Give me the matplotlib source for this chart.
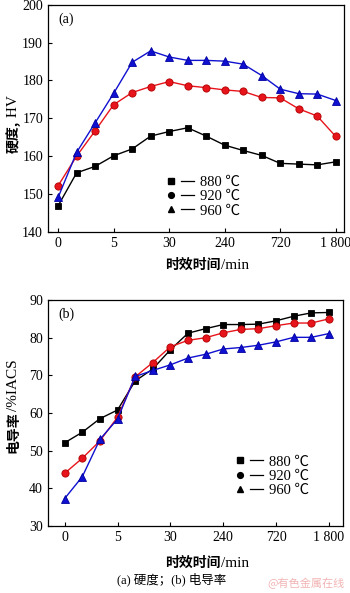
#!/usr/bin/env python3
import matplotlib
matplotlib.use("Agg")
import matplotlib.pyplot as plt
from matplotlib.lines import Line2D
from matplotlib.legend_handler import HandlerTuple

plt.rcParams["font.family"] = ["Liberation Serif", "Noto Sans CJK SC"]
plt.rcParams["font.size"] = 9

# aging time steps (min), only some get a tick label
STEPS = list(range(16))
TICK_POS = [0, 3, 6, 9, 12, 15]
TICK_LABELS = ["0", "5", "30", "240", "720", "1 800"]
TEMPS = ["880 ℃", "920 ℃", "960 ℃"]

# (a) hardness, HV
HV_880 = [146.9, 155.6, 157.3, 160.1, 161.9, 165.3, 166.5, 167.5,
          165.3, 162.9, 161.5, 160.2, 158.1, 157.9, 157.7, 158.5]
HV_920 = [152.2, 160.0, 166.7, 173.6, 176.8, 178.4, 179.7, 178.6,
          178.1, 177.5, 177.1, 175.5, 175.4, 172.5, 170.6, 165.2]
HV_960 = [149.1, 161.0, 168.8, 176.6, 184.8, 187.8, 186.2, 185.3,
          185.3, 185.1, 184.3, 181.3, 177.7, 176.5, 176.4, 174.7]

# (b) conductivity, %IACS
EC_880 = [52.1, 54.9, 58.5, 60.8, 68.5, 71.7, 76.8, 81.2,
          82.4, 83.5, 83.5, 83.6, 84.5, 85.7, 86.6, 86.7]
EC_920 = [44.0, 48.0, 52.6, 58.9, 69.6, 73.4, 77.6, 79.3,
          80.0, 81.3, 82.2, 82.4, 83.2, 83.9, 83.9, 85.0]
EC_960 = [37.3, 43.1, 53.0, 58.4, 69.7, 71.3, 72.8, 74.6,
          75.6, 77.0, 77.4, 78.0, 78.9, 80.1, 80.1, 81.1]

COLORS = ["#000000", "#e8141c", "#1010d0"]
EDGES = ["#000000", "#b00000", "#0000a0"]
MARKERS = ["s", "o", "^"]
MSIZE = [4.6, 5.2, 5.4]

CJK = {"family": ["Noto Sans CJK SC"], "fontweight": "bold", "fontsize": 10}
LAT = {"family": ["Liberation Serif"], "fontsize": 11}


def two_part_label(fig, x, y, cjk, latin, vertical=False):
    # bold CJK part followed by a plain serif part
    if vertical:
        t = fig.text(x, y, cjk, rotation=90, ha="center", va="bottom", **CJK)
        plt.annotate(latin, xy=(0.5, 1), xycoords=t, rotation=90,
                     ha="center", va="bottom", **LAT)
    else:
        t = fig.text(x, y, cjk, ha="left", va="center", **CJK)
        plt.annotate(latin, xy=(1, 0.5), xycoords=t, ha="left",
                     va="center", **LAT)


def draw(ax, series, ylim, yticks, tag, xlim, leg_anchor):
    for ys, c, e, m, ms in zip(series, COLORS, EDGES, MARKERS, MSIZE):
        ax.plot(STEPS, ys, color=c, marker=m, markersize=ms,
                markerfacecolor=c, markeredgecolor=e, markeredgewidth=0.6,
                linewidth=1.0)
    ax.set_xlim(*xlim)
    ax.set_ylim(*ylim)
    ax.set_yticks(yticks)
    ax.set_xticks(TICK_POS)
    ax.set_xticklabels(TICK_LABELS)
    ax.tick_params(direction="in", length=3, width=0.8, labelsize=10)
    for s in ax.spines.values():
        s.set_linewidth(0.9)
    ax.text(0.035, 0.965, tag, transform=ax.transAxes, ha="left", va="top",
            fontsize=10)

    handles = []
    for m, ms in zip(MARKERS, MSIZE):
        mk = Line2D([], [], marker=m, color="black", linestyle="none",
                    markersize=ms * 0.8)
        ln = Line2D([], [], color="black", linewidth=0.9)
        handles.append((mk, ln))
    ax.legend(handles, TEMPS, handler_map={tuple: HandlerTuple(ndivide=None, pad=0.2)},
              loc="upper left", bbox_to_anchor=leg_anchor, frameon=False,
              handlelength=2.0, handletextpad=0.4, labelspacing=0.08,
              borderpad=0, fontsize=10.5)


fig = plt.figure(figsize=(3.5, 5.93), dpi=100)

ax1 = fig.add_axes([0.137, 0.609, 0.846, 0.383])
draw(ax1, [HV_880, HV_920, HV_960], (140, 200), range(140, 201, 10),
     "(a)", (-0.55, 15.45), (0.37, 0.28))
two_part_label(fig, 0.472, 0.553, "时效时间", "/min")
two_part_label(fig, 0.038, 0.742, "硬度,", " HV", vertical=True)

ax2 = fig.add_axes([0.137, 0.113, 0.843, 0.381])
draw(ax2, [EC_880, EC_920, EC_960], (30, 90), range(30, 91, 10),
     "(b)", (-0.95, 15.8), (0.605, 0.345))
two_part_label(fig, 0.472, 0.050, "时效时间", "/min")
two_part_label(fig, 0.038, 0.236, "电导率", "/%IACS", vertical=True)

fig.text(0.49, 0.012, "(a) 硬度；(b) 电导率", ha="center", va="bottom",
         fontsize=9)
fig.text(0.985, 0.006, "@有色金属在线", ha="right", va="bottom",
         fontsize=8, color="#f2b4b4", family=["Noto Sans CJK SC"])

fig.savefig("out.png", dpi=100)
